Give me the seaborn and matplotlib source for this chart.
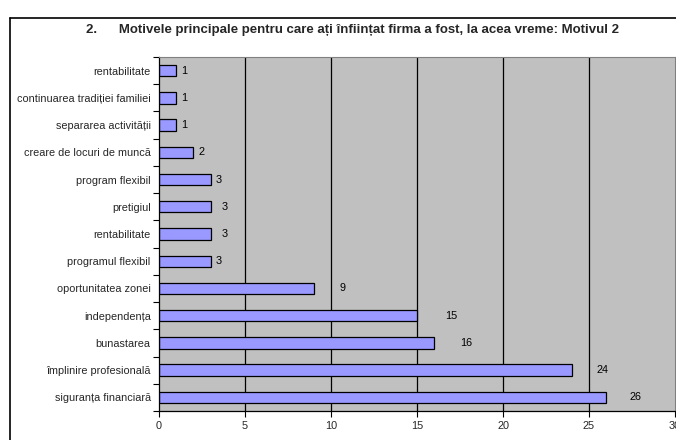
import numpy as np
import pandas as pd
import matplotlib
matplotlib.use("Agg")
import matplotlib.pyplot as plt
import seaborn as sns
from matplotlib.lines import Line2D

categories = [
    "rentabilitate",
    "continuarea tradiției familiei",
    "separarea activității",
    "creare de locuri de muncă",
    "program flexibil",
    "pretigiul",
    "rentabilitate",
    "programul flexibil",
    "oportunitatea zonei",
    "independența",
    "bunastarea",
    "împlinire profesională",
    "siguranța financiară",
]
values = [1, 1, 1, 2, 3, 3, 3, 3, 9, 15, 16, 24, 26]
x_ticks = [0, 5, 10, 15, 20, 25, 30]
title = "2.      Motivele principale pentru care ați înființat firma a fost, la acea vreme: Motivul 2"

# label offsets in pixels (styling only)
label_offsets = [5, 5, 5, 5, 5, 11, 11, 5, 26, 28, 26, 25, 23]

sns.set_theme(style="white")
plt.rcParams['font.family'] = ['Liberation Sans', 'DejaVu Sans']

df = pd.DataFrame({"pos": list(range(len(categories))), "value": values})

fig = plt.figure(figsize=(6.76, 4.40), dpi=100)
fig.patch.set_facecolor("white")
ax = fig.add_axes([159/676, 1-411/440, 516/676, 354/440])
ax.set_facecolor("#C0C0C0")

sns.barplot(data=df, x="value", y="pos", orient="h", color="#9999FF",
            saturation=1, width=0.42, edgecolor="black", linewidth=0.9, ax=ax)

ax.set_xlim(0, 30)
ax.set_ylim(len(categories) - 0.5, -0.5)
ax.set_xticks(x_ticks)
ax.set_xticklabels([str(t) for t in x_ticks], fontsize=7.8)
ax.set_yticks(range(len(categories)))
ax.set_yticklabels(categories, fontsize=7.8)
ax.set_yticks(np.arange(-0.5, len(categories), 1), minor=True)
ax.tick_params(axis="y", which="major", length=0, pad=6)
ax.tick_params(axis="y", which="minor", length=4, width=0.8, color="black", left=True)
ax.tick_params(axis="x", which="major", length=4, width=0.8, color="black", bottom=True, pad=3)
ax.set_xlabel("")
ax.set_ylabel("")

for xv in x_ticks[1:-1]:
    ax.axvline(xv, color="black", linewidth=0.9, zorder=0.5)
ax.set_axisbelow(True)

for s in ["left", "bottom"]:
    ax.spines[s].set_color("black")
    ax.spines[s].set_linewidth(0.9)
ax.spines["top"].set_color("#808080")
ax.spines["top"].set_linewidth(0.8)
ax.spines["right"].set_color("#808080")
ax.spines["right"].set_linewidth(0.8)

for i, (v, off) in enumerate(zip(values, label_offsets)):
    ax.annotate(str(v), xy=(v, i), xytext=(off * 0.72, 0), textcoords="offset points",
                va="center", ha="left", fontsize=7.8, color="black")

fig.text(353/676, 1-30/440, title, ha="center", va="center",
         fontsize=9.5, fontweight="bold")

# outer chart frame
fig.add_artist(Line2D([10/676, 10/676], [0, 1-18/440], color="black", linewidth=1.2,
                      transform=fig.transFigure))
fig.add_artist(Line2D([10/676, 1], [1-18/440, 1-18/440], color="black", linewidth=1.2,
                      transform=fig.transFigure))

fig.savefig("out.png", dpi=100)
